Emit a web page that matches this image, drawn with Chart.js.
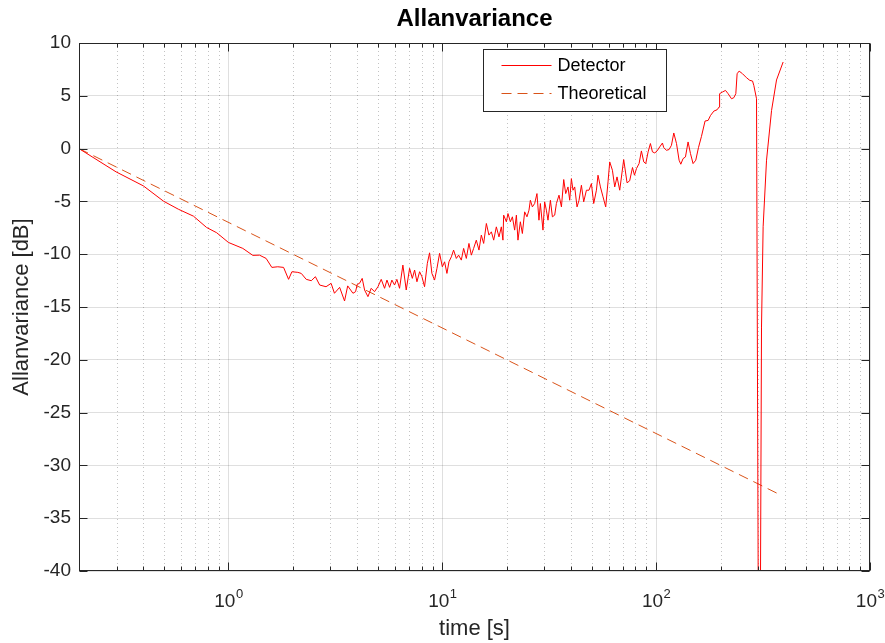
<!DOCTYPE html>
<html>
<head>
<meta charset="utf-8">
<title>Allanvariance</title>
<script src="https://cdn.jsdelivr.net/npm/chart.js@4.4.1/dist/chart.umd.min.js"></script>
<style>
  html, body { margin: 0; padding: 0; background: #fff; }
  canvas { display: block; }
</style>
</head>
<body>
<canvas id="allanChart" width="885" height="643"></canvas>
<script>
// averaging time [s] and measured Allan variance [dB]
const TIME_S = [
    0.2, 0.298, 0.40, 0.497, 0.583, 0.686, 0.79, 0.881, 1.0,
    1.167, 1.30, 1.397, 1.50, 1.595, 1.70, 1.81, 1.91, 1.98, 2.11, 2.19, 2.31, 2.44, 2.55, 2.67,
    2.86, 3.02, 3.13, 3.31, 3.49, 3.61, 3.82, 3.93, 4.0,
    4.10, 4.22, 4.33, 4.49, 4.65, 4.82, 5.00, 5.18, 5.37, 5.51, 5.67, 5.81, 5.98, 6.13, 6.31,
    6.54, 6.78, 7.03, 7.24, 7.42, 7.61, 7.83, 8.03, 8.26, 8.51, 8.72, 8.94, 9.20, 9.44, 9.71,
    10.0, 10.25, 10.51, 10.74, 11.02, 11.29, 11.63, 11.92, 12.27, 12.58, 12.95, 13.32, 13.67,
    14.01, 14.42, 14.84, 15.22, 15.61, 16.07, 16.52, 16.96, 17.39, 17.89, 18.41,
    18.88, 19.21, 19.36, 19.93, 20.28, 20.81, 21.27, 21.79, 22.20, 22.58, 23.17, 23.68, 24.27,
    24.88, 25.43, 25.81, 26.37, 27.03, 27.71, 28.31, 28.74, 29.56, 30.10, 30.66, 31.20, 32.02,
    32.72, 33.54, 34.16, 35.13, 36.06, 36.96, 37.76, 38.70, 39.42, 40.14, 40.85, 41.60, 42.65,
    43.58, 44.72, 45.84, 47.19, 48.53, 49.80, 51.05, 52.56, 53.47, 54.87, 56.43, 58.09, 59.55,
    60.66, 62.44, 64.01, 65.62, 67.55,
    70.5, 73.1, 75.2, 77.5, 79.2, 80.9, 83.2, 85.3, 87.5, 89.4, 91.7, 94.0, 96.1, 98.5, 101.0,
    103.9, 107.0, 108.5, 111.7, 114.9, 117.9, 120.9, 124.5, 128.0, 130.4, 133.6, 137.1, 141.0,
    144.7, 148.8, 153.2, 157.7, 162.9, 169.3, 175.0, 179.6, 186.1, 192.8, 197.0, 198.0, 204.3,
    211.0, 217.0, 225.1, 230.8, 235.8, 239.1, 244.3, 253.4, 264.6, 274.2, 282.3, 286.2, 294.7,
    303.5, 310.9, 316.4, 328.2, 346.4, 365.5, 392.5
];
const DETECTOR_DB = [
    0, -2.2, -3.53, -4.98, -5.74, -6.4, -7.47, -7.97, -8.89,
    -9.45, -10.11, -10.09, -10.4, -11.25, -11.19, -11.25, -12.38, -11.66, -11.72, -11.82, -12.38, -12.51, -12.13, -12.92,
    -13.08, -12.76, -13.7, -13.14, -14.43, -13.0, -13.7, -13.55, -12.86,
    -12.76, -12.29, -13.39, -14.02, -13.23, -13.55, -13.08, -12.38, -13.23, -12.45, -13.14, -12.45, -12.92, -12.38, -13.23,
    -11.03, -13.39, -11.34, -12.29, -11.5, -12.61, -11.66, -12.13, -13.08, -10.87, -9.87, -11.82, -12.45, -11.34, -9.92,
    -11.19, -10.72, -11.82, -10.72, -10.25, -9.61, -10.4, -10.09, -10.56, -9.45, -10.4, -8.98, -10.09,
    -9.45, -8.67, -9.61, -8.19, -8.98, -7.09, -8.19, -7.88, -8.67, -7.41, -8.36,
    -7.41, -8.67, -6.30, -6.93, -6.15, -6.93, -6.46, -7.72, -6.30, -8.67, -6.93, -8.04, -5.99,
    -6.46, -5.83, -4.89, -5.52, -5.20, -4.26, -6.78, -5.20, -7.72, -5.04, -5.83, -6.78, -4.89,
    -6.46, -6.30, -5.20, -4.41, -5.52, -2.93, -4.26, -3.63, -4.89, -2.84, -3.94, -3.63, -5.52,
    -4.89, -3.47, -5.04, -3.94, -3.94, -3.31, -5.20, -3.94, -2.52, -3.63, -4.57, -5.52, -3.15,
    -1.26, -2.05, -3.63, -2.68, -3.94,
    -1.04, -3.24, -3.05, -1.79, -2.52, -1.89, -1.42, -0.22, -1.26, -1.42, -0.31, 0.48, -0.31, -0.41, -0.22,
    0.16, 0.53, 0.09, -0.16, -0.09, 0.31, 1.48, 0.48, -1.1, -1.48, -0.95, -0.79, 0.63,
    -0.47, -1.42, -1.1, 0.09, 1.16, 2.61, 2.67, 3.14, 3.55, 3.68, 3.94, 5.2, 5.36,
    5.51, 5.2, 4.72, 4.82, 5.2, 7.09, 7.34, 7.09, 6.71, 6.46, 6.40, 5.99, 4.72,
    -70, -16.9, -7.4, -1.1, 3.6, 6.5, 8.2
];

// theoretical slope line (two end points)
const THEORY_TIME_S = [0.2, 373];
const THEORY_DB = [0, -32.7];

const X_TICKS = [1, 10, 100, 1000];
const X_TICK_BASE = ["10", "10", "10", "10"];
const X_TICK_EXP = ["0", "1", "2", "3"];
const X_MIN = 0.2;
const X_MAX = 1000;
const Y_MIN = -40;
const Y_MAX = 10;
const Y_STEP = 5;

const FONT = "'Liberation Sans', Arial, Helvetica, sans-serif";
const TEXT_COLOR = "#262626";

function minorTicks() {
    const out = [];
    [0.1, 1, 10, 100].forEach(function (d) {
        for (let k = 2; k <= 9; k++) {
            const v = k * d;
            if (v >= X_MIN && v < X_MAX) out.push(v);
        }
    });
    return out;
}

function toPoints(xs, ys) {
    return xs.map((x, i) => ({ x: x, y: ys[i] }));
}

// dotted minor grid, box with inward ticks, 10^n labels, legend inside the axes
const matlabAxes = {
    id: "matlabAxes",
    beforeDatasetsDraw(chart) {
        const { ctx, chartArea: a } = chart;
        const xs = chart.scales.x;
        ctx.save();
        ctx.strokeStyle = "rgba(38,38,38,0.28)";
        ctx.lineWidth = 1;
        ctx.setLineDash([1, 3]);
        minorTicks().forEach(function (v) {
            const px = Math.round(xs.getPixelForValue(v)) + 0.5;
            ctx.beginPath();
            ctx.moveTo(px, a.top);
            ctx.lineTo(px, a.bottom);
            ctx.stroke();
        });
        ctx.restore();
    },
    afterDatasetsDraw(chart) {
        const { ctx, chartArea: a } = chart;
        const xs = chart.scales.x;
        const ys = chart.scales.y;
        ctx.save();
        ctx.strokeStyle = TEXT_COLOR;
        ctx.lineWidth = 1;
        ctx.setLineDash([]);
        const L = Math.round(a.left) + 0.5, R = Math.round(a.right) - 0.5;
        const T = Math.round(a.top) + 0.5, B = Math.round(a.bottom) - 0.5;
        ctx.strokeRect(L, T, R - L, B - T);

        ctx.beginPath();
        const tick = function (v, len) {
            const px = Math.round(xs.getPixelForValue(v)) + 0.5;
            ctx.moveTo(px, B); ctx.lineTo(px, B - len);
            ctx.moveTo(px, T); ctx.lineTo(px, T + len);
        };
        X_TICKS.forEach(v => tick(v, 8));
        minorTicks().forEach(v => tick(v, 4));
        for (let v = Y_MIN; v <= Y_MAX; v += Y_STEP) {
            const py = Math.round(ys.getPixelForValue(v)) + 0.5;
            ctx.moveTo(L, py); ctx.lineTo(L + 8, py);
            ctx.moveTo(R, py); ctx.lineTo(R - 8, py);
        }
        ctx.stroke();

        // decade labels with raised exponent
        ctx.fillStyle = TEXT_COLOR;
        ctx.textBaseline = "alphabetic";
        ctx.textAlign = "left";
        X_TICKS.forEach(function (v, i) {
            const px = xs.getPixelForValue(v);
            ctx.font = "19px " + FONT;
            const wb = ctx.measureText(X_TICK_BASE[i]).width;
            ctx.font = "13px " + FONT;
            const we = ctx.measureText(X_TICK_EXP[i]).width;
            const x0 = px - (wb + we) / 2;
            ctx.font = "19px " + FONT;
            ctx.fillText(X_TICK_BASE[i], x0, a.bottom + 36);
            ctx.font = "13px " + FONT;
            ctx.fillText(X_TICK_EXP[i], x0 + wb + 0.5, a.bottom + 27);
        });

        // legend
        const bx = 483.5, by = 49.5, bw = 183, bh = 62;
        ctx.fillStyle = "#fff";
        ctx.fillRect(bx, by, bw, bh);
        ctx.strokeStyle = TEXT_COLOR;
        ctx.strokeRect(bx, by, bw, bh);
        ctx.font = "18px " + FONT;
        ctx.textBaseline = "middle";
        ctx.textAlign = "left";
        chart.data.datasets.forEach(function (ds, i) {
            const ly = by + 16 + i * 28;
            ctx.strokeStyle = ds.borderColor;
            ctx.lineWidth = 1;
            ctx.setLineDash(ds.borderDash || []);
            ctx.beginPath();
            ctx.moveTo(bx + 18, ly);
            ctx.lineTo(bx + 68, ly);
            ctx.stroke();
            ctx.setLineDash([]);
            ctx.fillStyle = "#000";
            ctx.fillText(ds.label, bx + 74, ly + 1);
        });
        ctx.restore();
    }
};

document.addEventListener("DOMContentLoaded", function () {
    const ctx = document.getElementById("allanChart").getContext("2d");
    new Chart(ctx, {
        type: "line",
        data: {
            datasets: [
                {
                    label: "Detector",
                    data: toPoints(TIME_S, DETECTOR_DB),
                    borderColor: "#ff0000",
                    borderWidth: 1,
                    pointRadius: 0,
                    tension: 0,
                    fill: false,
                },
                {
                    label: "Theoretical",
                    data: toPoints(THEORY_TIME_S, THEORY_DB),
                    borderColor: "#d95319",
                    borderWidth: 1,
                    borderDash: [10, 6],
                    pointRadius: 0,
                    tension: 0,
                    fill: false,
                },
            ],
        },
        options: {
            responsive: false,
            animation: false,
            events: [],
            layout: { padding: 0 },
            plugins: {
                legend: { display: false },
                tooltip: { enabled: false },
                title: {
                    display: true,
                    fullSize: false,
                    text: "Allanvariance",
                    color: "#000",
                    font: { family: FONT, size: 24, weight: "bold" },
                    padding: { top: 5, bottom: 9.2 },
                },
            },
            scales: {
                x: {
                    type: "logarithmic",
                    min: X_MIN,
                    max: X_MAX,
                    afterBuildTicks: function (scale) {
                        scale.ticks = X_TICKS.map(v => ({ value: v, major: true }));
                    },
                    afterFit: function (scale) {
                        scale.height = 72;
                        scale.paddingLeft = 0;
                        scale.paddingRight = 15;
                    },
                    ticks: {
                        display: false,
                        autoSkip: false,
                    },
                    grid: {
                        color: "rgba(38,38,38,0.15)",
                        lineWidth: 1,
                        drawTicks: false,
                    },
                    border: { display: false },
                    title: {
                        display: true,
                        text: "time [s]",
                        color: TEXT_COLOR,
                        font: { family: FONT, size: 22 },
                        padding: { top: 0, bottom: 1 },
                    },
                },
                y: {
                    min: Y_MIN,
                    max: Y_MAX,
                    afterFit: function (scale) {
                        scale.width = 79;
                    },
                    ticks: {
                        stepSize: Y_STEP,
                        padding: 8,
                        color: TEXT_COLOR,
                        font: { family: FONT, size: 19 },
                    },
                    grid: {
                        color: "rgba(38,38,38,0.15)",
                        lineWidth: 1,
                        drawTicks: false,
                    },
                    border: { display: false },
                    title: {
                        display: true,
                        text: "Allanvariance [dB]",
                        color: TEXT_COLOR,
                        font: { family: FONT, size: 22 },
                        padding: { top: 9, bottom: 0 },
                    },
                },
            },
        },
        plugins: [matlabAxes],
    });
});
</script>
</body>
</html>
